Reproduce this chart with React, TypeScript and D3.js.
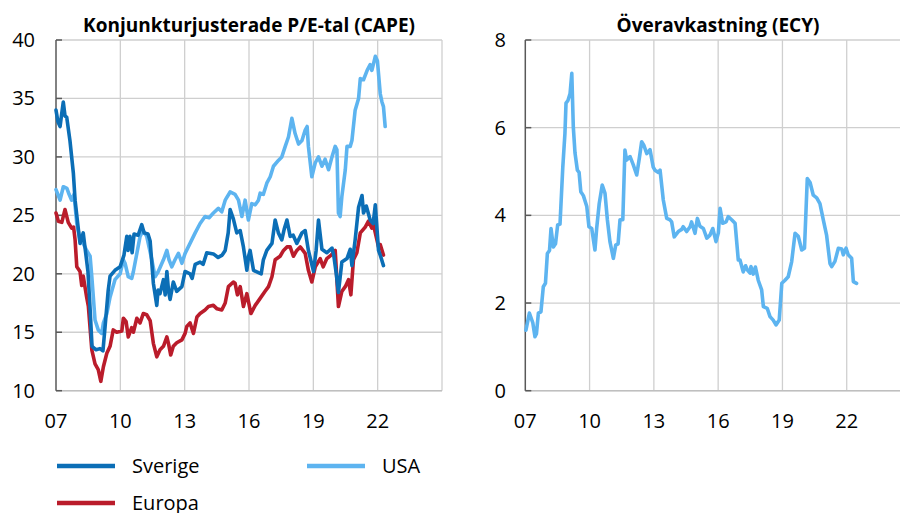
import React from 'react';
import * as d3 from 'd3';

// ---------- Data (decimal years, values) ----------
const sverigeT = [2007.00,2007.09,2007.19,2007.26,2007.34,2007.42,2007.50,2007.65,2007.81,2007.89,2008.03,2008.12,2008.27,2008.35,2008.49,2008.59,2008.68,2008.87,2009.05,2009.19,2009.29,2009.43,2009.52,2009.75,2009.99,2010.17,2010.30,2010.36,2010.45,2010.55,2010.64,2010.83,2011.00,2011.11,2011.29,2011.39,2011.54,2011.70,2011.76,2011.85,2012.01,2012.09,2012.17,2012.25,2012.32,2012.47,2012.63,2012.87,2013.02,2013.25,2013.35,2013.49,2013.72,2013.86,2014.03,2014.34,2014.56,2014.75,2014.89,2015.03,2015.12,2015.27,2015.43,2015.59,2015.74,2015.90,2015.98,2016.05,2016.21,2016.44,2016.57,2016.67,2016.83,2017.07,2017.22,2017.37,2017.53,2017.64,2017.77,2017.92,2018.06,2018.23,2018.47,2018.62,2018.77,2019.01,2019.13,2019.24,2019.40,2019.63,2019.87,2019.95,2020.07,2020.17,2020.33,2020.57,2020.72,2020.80,2020.95,2021.11,2021.27,2021.34,2021.47,2021.65,2021.79,2021.89,2022.04,2022.12,2022.27];
const sverigeV = [34.0,33.0,32.6,33.6,34.7,33.5,33.4,31.4,28.6,26.3,24.0,22.6,23.5,22.3,20.2,17.0,13.8,13.5,13.6,13.4,15.5,18.5,19.8,20.3,20.6,21.6,23.2,22.0,23.2,21.8,23.4,23.3,24.2,23.5,23.4,22.8,19.2,17.3,18.6,18.3,19.5,18.2,20.2,18.5,17.8,19.3,18.5,18.9,20.2,20.0,19.6,20.8,21.0,20.8,21.8,21.7,21.4,21.6,22.0,23.5,25.5,24.7,23.5,23.7,22.3,20.3,21.5,22.0,20.3,20.1,20.0,21.2,22.0,22.6,24.6,23.5,22.9,23.8,24.6,23.2,23.3,22.6,23.5,23.7,22.0,20.2,22.0,24.6,22.1,21.8,22.2,21.6,20.0,18.4,21.0,21.3,22.1,20.7,22.9,25.7,26.7,25.2,25.8,24.6,24.3,25.9,22.0,21.6,20.7];

const europaT = [2007.00,2007.11,2007.27,2007.42,2007.57,2007.73,2007.82,2007.89,2007.97,2008.12,2008.20,2008.27,2008.43,2008.51,2008.67,2008.82,2008.97,2009.09,2009.21,2009.37,2009.52,2009.67,2009.83,2010.07,2010.14,2010.27,2010.37,2010.53,2010.61,2010.77,2010.92,2011.07,2011.23,2011.39,2011.54,2011.70,2011.85,2012.01,2012.17,2012.25,2012.35,2012.47,2012.63,2012.87,2013.02,2013.10,2013.25,2013.41,2013.57,2013.72,2013.95,2014.11,2014.34,2014.51,2014.73,2014.89,2015.04,2015.27,2015.35,2015.46,2015.59,2015.74,2015.90,2016.09,2016.29,2016.52,2016.75,2016.91,2017.07,2017.22,2017.45,2017.61,2017.77,2017.92,2018.07,2018.23,2018.39,2018.62,2018.77,2018.93,2019.09,2019.32,2019.46,2019.63,2019.83,2020.02,2020.17,2020.33,2020.49,2020.64,2020.75,2020.87,2021.03,2021.19,2021.42,2021.57,2021.73,2021.79,2021.89,2022.04,2022.12,2022.27];
const europaV = [25.2,24.5,24.4,25.5,24.4,23.9,24.0,22.9,20.6,20.2,19.0,19.8,18.0,17.2,13.5,12.3,11.8,10.8,12.05,13.2,13.8,15.2,15.0,15.1,16.2,15.9,14.6,15.4,15.0,16.2,15.8,16.6,16.5,16.0,14.05,12.9,13.5,13.8,14.6,14.0,13.05,13.8,14.1,14.35,14.9,15.5,15.8,14.9,16.3,16.6,16.9,17.2,17.3,17.0,16.9,17.5,18.9,19.3,19.2,18.2,18.9,17.2,18.3,16.6,17.3,17.9,18.5,18.9,19.75,21.2,21.5,22.0,22.3,22.3,21.5,22.0,22.3,21.75,20.3,19.3,20.6,21.3,20.6,21.3,21.6,22.0,17.2,18.5,18.9,19.5,18.2,21.2,21.8,23.5,24.0,24.5,23.9,24.3,23.5,22.3,22.5,21.6];

const usaT = [2007.00,2007.19,2007.34,2007.51,2007.61,2007.73,2007.84,2007.97,2008.12,2008.27,2008.43,2008.59,2008.67,2008.82,2008.97,2009.13,2009.21,2009.37,2009.52,2009.75,2009.99,2010.14,2010.22,2010.37,2010.53,2010.61,2010.77,2010.92,2011.07,2011.23,2011.47,2011.62,2011.77,2012.01,2012.17,2012.27,2012.40,2012.55,2012.71,2012.87,2013.02,2013.25,2013.49,2013.72,2013.95,2014.14,2014.34,2014.57,2014.73,2014.89,2015.12,2015.35,2015.51,2015.67,2015.82,2015.97,2016.13,2016.29,2016.44,2016.52,2016.67,2016.83,2016.99,2017.14,2017.37,2017.53,2017.69,2017.84,2018.00,2018.15,2018.31,2018.47,2018.62,2018.71,2018.77,2018.93,2019.09,2019.24,2019.40,2019.55,2019.71,2019.87,2020.02,2020.10,2020.17,2020.25,2020.33,2020.49,2020.57,2020.72,2020.80,2020.95,2021.11,2021.19,2021.34,2021.51,2021.65,2021.73,2021.89,2021.99,2022.12,2022.20,2022.27,2022.35];
const usaV = [27.2,26.3,27.45,27.3,26.8,26.3,26.8,24.3,22.9,22.6,22.0,21.5,19.75,16.05,15.2,14.9,15.8,16.6,18.0,19.5,20.0,21.2,20.9,19.75,19.6,20.2,21.75,23.2,23.7,23.2,21.2,19.75,20.2,21.2,22.0,21.2,20.6,21.2,21.75,20.9,21.75,22.6,23.5,24.3,24.9,24.8,25.2,25.6,25.3,26.3,27.0,26.8,26.3,24.9,26.3,24.6,26.0,25.9,26.3,26.9,26.8,27.75,28.3,29.2,29.7,30.0,30.9,31.7,33.3,32.0,31.1,31.4,32.3,32.6,30.9,28.3,29.5,30.0,29.2,29.8,28.9,30.0,30.9,30.6,25.2,24.9,26.6,28.9,30.9,30.9,31.4,34.0,35.0,36.7,36.6,37.4,37.9,37.4,38.6,38.2,35.4,34.7,34.3,32.6];

const ecyT = [2007.03,2007.19,2007.35,2007.45,2007.52,2007.61,2007.73,2007.84,2007.94,2008.03,2008.13,2008.20,2008.31,2008.41,2008.51,2008.62,2008.75,2008.85,2008.90,2008.99,2009.09,2009.17,2009.24,2009.32,2009.43,2009.51,2009.59,2009.71,2009.87,2009.97,2010.10,2010.25,2010.33,2010.45,2010.59,2010.72,2010.83,2010.95,2011.11,2011.22,2011.33,2011.42,2011.55,2011.65,2011.73,2011.89,2012.04,2012.20,2012.32,2012.43,2012.53,2012.67,2012.82,2012.97,2013.05,2013.21,2013.29,2013.44,2013.60,2013.75,2013.83,2013.95,2014.14,2014.30,2014.37,2014.53,2014.69,2014.76,2014.92,2015.03,2015.15,2015.31,2015.47,2015.62,2015.75,2015.90,2016.01,2016.09,2016.21,2016.37,2016.47,2016.63,2016.79,2016.94,2017.02,2017.17,2017.28,2017.37,2017.49,2017.53,2017.64,2017.74,2017.87,2018.03,2018.11,2018.29,2018.42,2018.57,2018.70,2018.85,2018.97,2019.12,2019.27,2019.43,2019.59,2019.74,2019.90,2020.03,2020.16,2020.29,2020.44,2020.60,2020.75,2020.91,2021.06,2021.22,2021.30,2021.45,2021.61,2021.77,2021.84,2021.97,2022.07,2022.23,2022.31,2022.46];
const ecyV = [1.38,1.77,1.55,1.23,1.3,1.77,1.8,2.37,2.45,3.13,3.2,3.7,3.28,3.35,3.78,3.8,5.1,5.87,6.56,6.62,6.78,7.24,6.02,5.42,5.03,4.98,4.54,4.45,4.2,3.74,3.7,3.21,3.7,4.27,4.69,4.5,3.9,3.4,3.02,3.32,3.35,3.9,3.9,5.49,5.26,5.34,5.15,4.92,5.3,5.68,5.6,5.41,5.5,5.1,5.03,4.98,5.03,4.35,3.93,3.9,3.85,3.51,3.63,3.68,3.74,3.63,3.74,3.85,3.59,3.93,3.75,3.7,3.48,3.55,3.7,3.4,3.6,4.16,3.82,3.85,3.97,3.9,3.82,2.98,2.98,2.71,2.85,2.75,2.68,2.83,2.66,2.82,2.52,2.3,1.92,1.88,1.69,1.61,1.5,1.61,2.45,2.52,2.6,2.94,3.59,3.52,3.21,3.25,4.84,4.75,4.46,4.4,4.27,3.89,3.55,2.9,2.83,2.95,3.25,3.23,3.1,3.25,3.1,3.02,2.49,2.45];

const xGridYears = [2007, 2010, 2013, 2016, 2019, 2022, 2025];
const xTickLabels = ['07', '10', '13', '16', '19', '22'];
const capeTicks = [10, 15, 20, 25, 30, 35, 40];
const ecyTicks = [0, 2, 4, 6, 8];

const legendItems = [
  { name: 'Sverige', color: '#0B6EB6' },
  { name: 'USA', color: '#5DB4F0' },
  { name: 'Europa', color: '#BA1C2B' },
];

const FONT = "'Open Sans', 'Liberation Sans', sans-serif";
const GRID = '#CFCFCF';
const AXIS = '#595959';

type Series = { t: number[]; v: number[]; color: string };

function Panel(props: {
  x0: number; x1: number; y0: number; y1: number;
  domain: [number, number]; ticks: number[]; title: string; titleX: number;
  series: Series[]; labelX: number;
}) {
  const { x0, x1, y0, y1, domain, ticks, title, titleX, series, labelX } = props;
  const x = d3.scaleLinear().domain([2007, 2025]).range([x0, x1]);
  const y = d3.scaleLinear().domain(domain).range([y1, y0]);
  const line = d3.line<[number, number]>().x(d => x(d[0])).y(d => y(d[1]));
  return (
    <g>
      <text x={titleX} y={32} textAnchor="middle" fontFamily={FONT} fontWeight="bold" fontSize={19} fill="#000">{title}</text>
      {ticks.map(t => (
        <line key={'h' + t} x1={x0} x2={x1} y1={y(t)} y2={y(t)} stroke={GRID} strokeWidth={1.3} />
      ))}
      {xGridYears.slice(1).map(yr => (
        <line key={'v' + yr} x1={x(yr)} x2={x(yr)} y1={y0} y2={y1} stroke={GRID} strokeWidth={1.3} />
      ))}
      <line x1={x0} x2={x1} y1={y1} y2={y1} stroke="#BFBFBF" strokeWidth={1.5} />
      <line x1={x0} x2={x0} y1={y0} y2={y1} stroke={AXIS} strokeWidth={1.5} />
      {ticks.map(t => (
        <line key={'tk' + t} x1={x0} x2={x0 + 6} y1={y(t)} y2={y(t)} stroke={AXIS} strokeWidth={1.5} />
      ))}
      {ticks.map(t => (
        <text key={'tl' + t} x={labelX} y={y(t)} dy="0.35em" textAnchor="end" fontFamily={FONT} fontSize={20} fill="#000">{t}</text>
      ))}
      {xTickLabels.map((lab, i) => (
        <text key={'xl' + lab} x={x(xGridYears[i])} y={421} dy="0.35em" textAnchor="middle" fontFamily={FONT} fontSize={20} fill="#000">{lab}</text>
      ))}
      {series.map((s, i) => (
        <path key={'s' + i} d={line(s.t.map((tt, j) => [tt, s.v[j]]) as [number, number][]) || ''} fill="none" stroke={s.color} strokeWidth={3.6} strokeLinejoin="round" strokeLinecap="round" />
      ))}
    </g>
  );
}

export default function App() {
  const leftSeries: Series[] = [
    { t: usaT, v: usaV, color: legendItems[1].color },
    { t: europaT, v: europaV, color: legendItems[2].color },
    { t: sverigeT, v: sverigeV, color: legendItems[0].color },
  ];
  const rightSeries: Series[] = [{ t: ecyT, v: ecyV, color: legendItems[1].color }];
  const legendPos = [
    { x: 57, y: 466 },
    { x: 307, y: 466 },
    { x: 57, y: 503 },
  ];
  return (
    <svg width={900} height={513} style={{ position: 'absolute', left: 0, top: 0, background: '#fff' }}>
      <rect x={0} y={0} width={900} height={513} fill="#fff" />
      <Panel x0={56} x1={442} y0={40} y1={390.7} domain={[10, 40]} ticks={capeTicks}
        title="Konjunkturjusterade P/E-tal (CAPE)" titleX={249} series={leftSeries} labelX={35} />
      <Panel x0={525.3} x1={911} y0={40} y1={390.7} domain={[0, 8]} ticks={ecyTicks}
        title="Överavkastning (ECY)" titleX={718} series={rightSeries} labelX={506} />
      {legendItems.map((it, i) => (
        <g key={it.name}>
          <line x1={legendPos[i].x} x2={legendPos[i].x + 58} y1={legendPos[i].y} y2={legendPos[i].y} stroke={it.color} strokeWidth={4.5} />
          <text x={legendPos[i].x + 75} y={legendPos[i].y} dy="0.35em" fontFamily={FONT} fontSize={20} fill="#000">{it.name}</text>
        </g>
      ))}
    </svg>
  );
}
